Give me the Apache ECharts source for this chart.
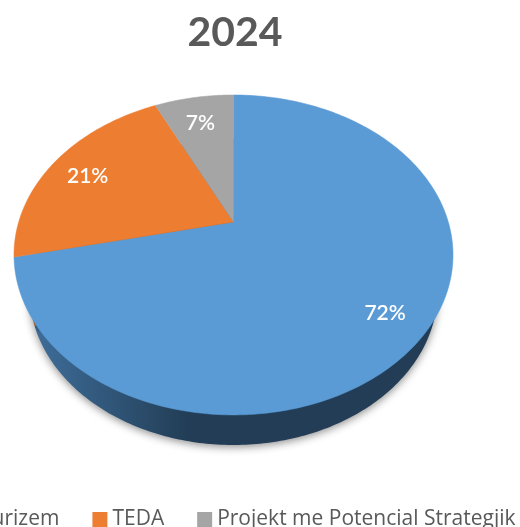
<!DOCTYPE html>
<html>
<head>
<meta charset="utf-8">
<title>2024</title>
<script src="https://cdn.jsdelivr.net/npm/echarts@6/dist/echarts.min.js"></script>
<style>
    html, body {margin: 0; padding: 0; background: #fff;}
    #chart {width: 520px; height: 527px;}
</style>
</head>
<body>
<div id="chart"></div>
<script>
    var titleText = '2024';
    var categories = ['Turizem', 'TEDA', 'Projekt me Potencial Strategjik'];
    var shares = [71.5, 21.4, 7.1];
    var colors = ['#5b9bd5', '#ed7d31', '#a5a5a5'];
    var sideLight = ['#3f6f9c', '#a85823', '#757575'];
    var sideDark = ['#223d55', '#5e3214', '#424242'];

    // perspective of the tilted disc
    var apex = {x: 233.5, y: 222};
    var spread = {x: 214.8, y: 153.2};
    var tilt = 0.206;
    // lower rim of the disc
    var rim = {x: 233.5, y: 292, rx: 204, ry: 153};
    var labelRadius = 0.81;

    var total = shares.reduce(function (a, b) {
        return a + b;
    }, 0);

    function topPoint (angle, r) {
        var u = r * Math.sin(angle);
        var v = r * Math.cos(angle);
        var w = 1 + tilt * v;
        return [apex.x + spread.x * u / w, apex.y - spread.y * v / w];
    }

    function rimPoint (angle, r) {
        return [rim.x + rim.rx * r * Math.sin(angle), rim.y - rim.ry * r * Math.cos(angle)];
    }

    function slicePoints (pointAt, from, to) {
        var points = [pointAt(from, 0)];
        var steps = Math.ceil((to - from) / (Math.PI / 180));
        for (var i = 0; i <= steps; i++) {
            points.push(pointAt(from + (to - from) * i / steps, 1));
        }
        return points;
    }

    function renderSlice (index) {
        return function (params, api) {
            var before = shares.slice(0, index).reduce(function (a, b) {
                return a + b;
            }, 0);
            var from = before / total * Math.PI * 2;
            var to = (before + api.value(0)) / total * Math.PI * 2;
            var color = colors[index];
            var labelAt = topPoint((from + to) / 2, labelRadius);
            return {
                type: 'group',
                children: [{
                    type: 'polygon',
                    z2: 1,
                    shape: {points: slicePoints(rimPoint, from, to)},
                    style: {
                        fill: {
                            type: 'linear',
                            global: true,
                            x: 28, y: 0, x2: 190, y2: 0,
                            colorStops: [
                                {offset: 0, color: sideLight[index]},
                                {offset: 1, color: sideDark[index]}
                            ]
                        },
                        shadowColor: 'rgba(0,0,0,0.45)',
                        shadowBlur: 9,
                        shadowOffsetY: 2
                    }
                }, {
                    type: 'polygon',
                    z2: 2,
                    shape: {points: slicePoints(topPoint, from, to)},
                    style: {fill: color, stroke: color, lineWidth: 0.5}
                }, {
                    type: 'text',
                    z2: 3,
                    x: labelAt[0],
                    y: labelAt[1] + 5,
                    style: {
                        text: Math.round(api.value(0) / total * 100) + '%',
                        fill: '#fff',
                        font: '600 21px Lato',
                        align: 'center',
                        verticalAlign: 'middle'
                    }
                }]
            };
        };
    }

    var chart = echarts.init(document.getElementById('chart'));

    chart.setOption({
        animation: false,
        title: {
            text: titleText,
            left: 230,
            top: 7,
            textAlign: 'center',
            textStyle: {
                color: '#595959',
                fontFamily: 'Lato',
                fontWeight: 'bold',
                fontSize: 41
            }
        },
        legend: {
            data: categories,
            left: -40,
            top: 509,
            padding: 0,
            itemWidth: 15,
            itemHeight: 15,
            itemGap: 33,
            icon: 'rect',
            selectedMode: false,
            textStyle: {
                color: '#595959',
                fontFamily: 'Open Sans',
                fontSize: 21
            }
        },
        series: categories.map(function (name, i) {
            return {
                type: 'custom',
                name: name,
                coordinateSystem: 'none',
                silent: true,
                itemStyle: {color: colors[i]},
                renderItem: renderSlice(i),
                data: [[shares[i]]]
            };
        })
    });
</script>
</body>
</html>
